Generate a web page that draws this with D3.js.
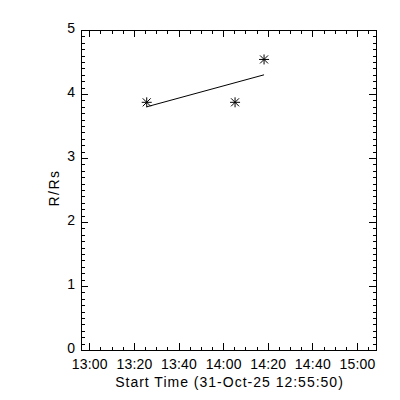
<!DOCTYPE html>
<html><head><meta charset="utf-8">
<script src="https://cdn.jsdelivr.net/npm/d3@7"></script>
<style>
body{margin:0;background:#fff;}
svg{display:block;}
text{font-family:"Liberation Sans",Arial,sans-serif;font-size:14px;fill:#000;}
</style></head><body>
<svg id="c" width="400" height="400"></svg>
<script>
// Data
const times = ["13:25:44", "14:05:20", "14:18:20"];
const radii = [3.87, 3.87, 4.54];
const fitTimes = ["13:25:44", "14:18:20"];
const fitRadii = [3.80, 4.30];
const xTickLabels = ["13:00", "13:20", "13:40", "14:00", "14:20", "14:40", "15:00"];
const yTickValues = [0, 1, 2, 3, 4, 5];
const xDomain = ["12:56:16", "15:08:31"];
const xTitle = "Start Time (31-Oct-25 12:55:50)";
const yTitle = "R/Rs";

const parse = s => new Date("2025-10-31T" + (s.length === 5 ? s + ":00" : s) + "Z");
const svg = d3.select("#c");
const L = 81, R = 376, T = 30, B = 350;

const x = d3.scaleUtc().domain(xDomain.map(parse)).range([L, R]);
const y = d3.scaleLinear().domain([0, 5]).range([B, T]);

const majorX = xTickLabels.map(parse);
const minorX = d3.utcMinute.every(5).range(x.domain()[0], x.domain()[1]);
const minorY = d3.range(0, 50).map(i => i / 10).filter(v => v % 1 !== 0);

const g = svg.append("g").attr("shape-rendering", "crispEdges");
function style(sel) {
  sel.select(".domain").remove();
  sel.selectAll("line").attr("stroke", "#000");
  sel.selectAll("text").style("font-family", '"Liberation Sans",Arial,sans-serif').style("font-size", "14px").attr("fill", "#000");
}
// bottom
const xb = g.append("g").attr("transform", `translate(0,${B})`)
  .call(d3.axisBottom(x).tickValues(majorX).tickSize(-7).tickPadding(9).tickFormat(d3.utcFormat("%H:%M"))).call(style);
xb.selectAll("text").style("letter-spacing", "0.2px");
g.append("g").attr("transform", `translate(0,${B})`)
  .call(d3.axisBottom(x).tickValues(minorX).tickSize(-3.5).tickFormat("")).call(style);
// top
g.append("g").attr("transform", `translate(0,${T})`)
  .call(d3.axisTop(x).tickValues(majorX).tickSize(-7).tickFormat("")).call(style);
g.append("g").attr("transform", `translate(0,${T})`)
  .call(d3.axisTop(x).tickValues(minorX).tickSize(-3.5).tickFormat("")).call(style);
// left
const yl = g.append("g").attr("transform", `translate(${L},0)`)
  .call(d3.axisLeft(y).tickValues(yTickValues).tickSize(-7).tickPadding(6).tickFormat(d3.format("d"))).call(style);
yl.selectAll("text").attr("dy", "0.18em");
g.append("g").attr("transform", `translate(${L},0)`)
  .call(d3.axisLeft(y).tickValues(minorY).tickSize(-3.5).tickFormat("")).call(style);
// right
g.append("g").attr("transform", `translate(${R},0)`)
  .call(d3.axisRight(y).tickValues(yTickValues).tickSize(-7).tickFormat("")).call(style);
g.append("g").attr("transform", `translate(${R},0)`)
  .call(d3.axisRight(y).tickValues(minorY).tickSize(-3.5).tickFormat("")).call(style);

// frame
g.append("rect").attr("x", L).attr("y", T).attr("width", R - L).attr("height", B - T)
  .attr("fill", "none").attr("stroke", "#000");

// fit line
svg.append("path")
  .datum(fitTimes.map((t, i) => [parse(t), fitRadii[i]]))
  .attr("d", d3.line().x(d => x(d[0])).y(d => y(d[1])))
  .attr("fill", "none").attr("stroke", "#000").attr("stroke-width", 1);

// asterisks
const pts = svg.append("g").selectAll("g").data(times.map((t, i) => [parse(t), radii[i]]))
  .join("g").attr("transform", d => `translate(${x(d[0])},${y(d[1])})`);
const s = 5, dg = 4;
[[-s,0,s,0],[0,-s,0,s],[-dg,-dg,dg,dg],[-dg,dg,dg,-dg]].forEach(c => {
  pts.append("line").attr("x1", c[0]).attr("y1", c[1]).attr("x2", c[2]).attr("y2", c[3])
    .attr("stroke", "#000").attr("stroke-width", 1);
});

// titles
svg.append("text").attr("x", (L + R) / 2 + 1).attr("y", 387).attr("text-anchor", "middle")
  .style("letter-spacing", "1px").text(xTitle);
svg.append("text").attr("transform", `translate(59,${(T + B) / 2 - 2}) rotate(-90)`).attr("text-anchor", "middle")
  .style("letter-spacing", "1.5px").text(yTitle);
</script>
</body></html>
